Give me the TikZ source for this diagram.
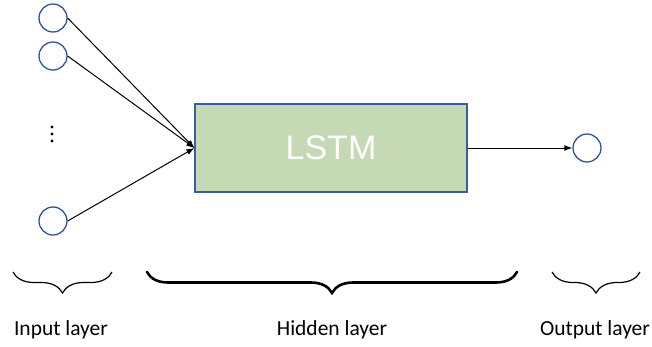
\documentclass[tikz,border=0pt]{standalone}
\usepackage{fontspec}
\setmainfont{Carlito}
\newfontfamily\cellfont{Liberation Sans}
\usepackage{tikz}
\usetikzlibrary{positioning,decorations.pathreplacing,arrows.meta}

\definecolor{unitblue}{RGB}{47,85,151}
\definecolor{cellgreen}{RGB}{197,218,180}
\definecolor{cellblue}{RGB}{58,93,168}

\tikzset{
  unit/.style={circle, draw=unitblue, line width=1.3pt, minimum size=28pt, inner sep=0pt},
  cell/.style={rectangle, draw=cellblue, line width=1.2pt, fill=cellgreen,
               minimum width=272pt, minimum height=88pt, text=white, font=\cellfont\fontsize{34}{34}\selectfont},
  conn/.style={-{Latex[length=8pt,width=6pt]}, line width=1pt},
  layerbrace/.style={decorate, decoration={brace, mirror, amplitude=21pt}, line width=1.2pt},
  layerlabel/.style={font=\fontsize{21.5}{21.5}\selectfont, anchor=base}
}

\begin{document}
\begin{tikzpicture}[x=1pt, y=-1pt]

\useasboundingbox (0,0) rectangle (652,346);

% Input units
\node[unit] (in1) at (53,18) {};
\node[unit] (in2) at (53,56) {};
\node[unit] (in3) at (53,221) {};

% Dots between the inputs
\foreach \y in {127, 134, 141}
    \fill (52,\y) circle (1.6pt);

% Hidden cell
\node[cell] (lstm) at (331,148) {LSTM};

% Output unit
\node[unit] (out) at (587,148) {};

% Connections
\draw[conn] (in1.east) -- (lstm.west);
\draw[conn] (in2.east) -- (lstm.west);
\draw[conn] (in3.east) -- (lstm.west);
\draw[conn] (lstm.east) -- (out.west);

% Layer braces
\coordinate (inL) at (13,272);
\coordinate (inR) at (112,272);
\coordinate (hidL) at (147,272);
\coordinate (hidR) at (517,272);
\coordinate (outL) at (552,272);
\coordinate (outR) at (640,272);

\draw[layerbrace] (inL) -- (inR);
\draw[layerbrace, line width=2.6pt, line cap=round] (hidL) -- (hidR);
\draw[layerbrace] (outL) -- (outR);

% Layer labels
\node[layerlabel] (inlab) at (61,335) {Input layer};
\node[layerlabel] (hidlab) at (332,335) {Hidden layer};
\node[layerlabel] (outlab) at (595,335) {Output layer};

\end{tikzpicture}
\end{document}
